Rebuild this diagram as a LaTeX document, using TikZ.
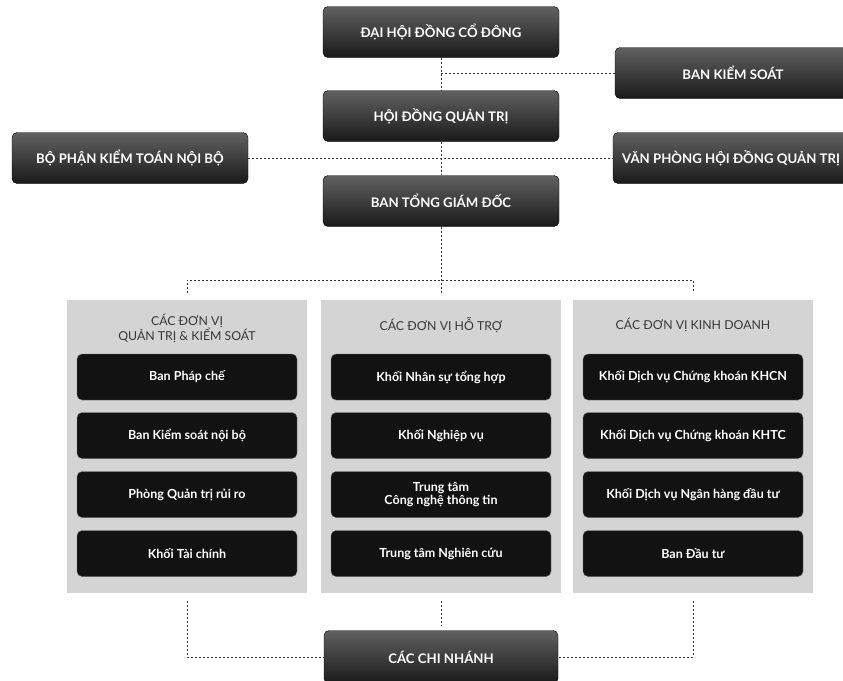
\documentclass[tikz,border=0pt]{standalone}
\usepackage{fontspec}
\setmainfont{Lato}
\usetikzlibrary{positioning, calc}

\begin{document}
\begin{tikzpicture}[x=1pt, y=-1pt,
	topbox/.style={draw=black, rounded corners=5pt, top color=black!62, bottom color=black!90, text=white, minimum width=236pt, minimum height=51pt, font=\bfseries\fontsize{13.2}{15}\selectfont},
	unitbox/.style={draw=black!55, rounded corners=5pt, fill=black!93, text=white, minimum width=220pt, minimum height=46pt, align=center, font=\bfseries\fontsize{12.5}{13.5}\selectfont},
	panel/.style={fill=black!17, minimum width=240pt, minimum height=293pt},
	head/.style={text=black!78, align=center, font=\fontsize{12.3}{13}\selectfont},
	link/.style={draw=black!80, line width=1pt, dash pattern=on 2.2pt off 1.8pt}]
			\useasboundingbox (0,0) rectangle (843,680);
			\clip (0,0) rectangle (843,680);
			% top of the chart
			\node (dhd) [topbox] at (441,32) {ĐẠI HỘI ĐỒNG CỔ ĐÔNG};
			\node (bks) [topbox] at (733,73) {BAN KIỂM SOÁT};
			\node (hdqt) [topbox] at (441,116) {HỘI ĐỒNG QUẢN TRỊ};
			\node (bpk) [topbox] at (130,158) {BỘ PHẬN KIỂM TOÁN NỘI BỘ};
			\node (vp) [topbox] at (731,158) {VĂN PHÒNG HỘI ĐỒNG QUẢN TRỊ};
			\node (btgd) [topbox] at (441,201) {BAN TỔNG GIÁM ĐỐC};
			
			% the three groups
			\node (g1) [panel] at (187,446.5) {};
			\node (g2) [panel] at (441,446.5) {};
			\node (g3) [panel] at (693,446.5) {};
			\node (h1) [head] at (187,328.5) {CÁC ĐƠN VỊ\\QUẢN TRỊ \& KIỂM SOÁT};
			\node (h2) [head] at (441,325) {CÁC ĐƠN VỊ HỖ TRỢ};
			\node (h3) [head] at (693,325) {CÁC ĐƠN VỊ KINH DOANH};
			
			\node (a1) [unitbox] at (187,377) {Ban Pháp chế};
			\node (a2) [unitbox] at (187,435.5) {Ban Kiểm soát nội bộ};
			\node (a3) [unitbox] at (187,494.5) {Phòng Quản trị rủi ro};
			\node (a4) [unitbox] at (187,553.5) {Khối Tài chính};
			\node (b1) [unitbox] at (441,377) {Khối Nhân sự tổng hợp};
			\node (b2) [unitbox] at (441,435.5) {Khối Nghiệp vụ};
			\node (b3) [unitbox] at (441,494.5) {Trung tâm\\Công nghệ thông tin};
			\node (b4) [unitbox] at (441,553.5) {Trung tâm Nghiên cứu};
			\node (c1) [unitbox] at (693,377) {Khối Dịch vụ Chứng khoán KHCN};
			\node (c2) [unitbox] at (693,435.5) {Khối Dịch vụ Chứng khoán KHTC};
			\node (c3) [unitbox] at (693,494.5) {Khối Dịch vụ Ngân hàng đầu tư};
			\node (c4) [unitbox] at (693,553.5) {Ban Đầu tư};
			
			\node (cn) [topbox, minimum width=234pt, minimum height=53pt] at (441,657) {CÁC CHI NHÁNH};
			
			% dotted links
			\coordinate (bar) at (441,280);
			\draw [link] (dhd) -- (hdqt);
			\draw [link] (hdqt) -- (btgd);
			\draw [link] (bks.west) -- (bks.west -| dhd.south);
			\draw [link] (bpk.east) -- (vp.west);
			\draw [link] (btgd.south) -- ([yshift=7pt]g2.north);
			\draw [link] ([yshift=7pt]g1.north) |- (bar) -| ([yshift=7pt]g3.north);
			\draw [link] ([yshift=-8pt]g1.south) |- (cn.west);
			\draw [link] ([yshift=-8pt]g3.south) |- (cn.east);
			\draw [link] ([yshift=-8pt]g2.south) -- ([yshift=5pt]cn.north);
		\end{tikzpicture}
\end{document}
